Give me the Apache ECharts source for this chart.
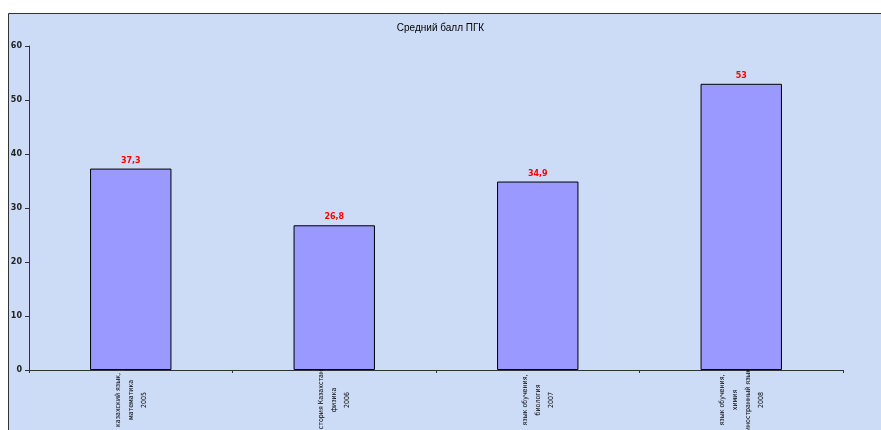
<!DOCTYPE html>
<html><head><meta charset="utf-8">
<script src="https://cdn.jsdelivr.net/npm/echarts@6/dist/echarts.min.js"></script>
<style>html,body{margin:0;padding:0;background:#fff}#c{width:881px;height:430px}</style>
</head><body><div id="c"></div>
<script>
const categories = [
  "казахский язык,\nматематика\n2005",
  "История Казахстана\nфизика\n2006",
  "язык обучения,\nбиология\n2007",
  "язык обучения,\nхимия\nиностранный язык\n2008"
];
const values = [37.3, 26.8, 34.9, 53];
const yTicks = { min: 0, max: 60, interval: 10 };
const title = "Средний балл ПГК";

const chart = echarts.init(document.getElementById('c'), null, {renderer: 'canvas'});
chart.setOption({
  backgroundColor: '#ffffff',
  animation: false,
  graphic: [{
    type: 'rect', z: -10, silent: true,
    shape: {x: 8.5, y: 13.5, width: 880, height: 420},
    style: {fill: '#cddcf6', stroke: '#333333', lineWidth: 1}
  }],
  title: {
    text: title, left: 'center', top: 18,
    textStyle: {fontFamily: 'Liberation Sans, Arial, sans-serif', fontSize: 10, fontWeight: 'normal', color: '#000'}
  },
  grid: {left: 29, right: 38, top: 46, bottom: 60, containLabel: false, outerBoundsMode: 'none'},
  xAxis: {
    type: 'category', data: categories,
    axisLine: {lineStyle: {color: '#333', width: 1}},
    axisTick: {show: true, length: 3, lineStyle: {color: '#333'}},
    axisLabel: {
      rotate: 90, align: 'center', verticalAlign: 'middle', margin: 30,
      interval: 0, overflow: 'none', hideOverlap: false,
      fontFamily: 'Liberation Sans Narrow, DejaVu Sans Condensed, sans-serif',
      fontSize: 7, lineHeight: 13, color: '#000'
    }
  },
  yAxis: {
    type: 'value', min: yTicks.min, max: yTicks.max, interval: yTicks.interval,
    splitLine: {show: false},
    axisLine: {show: true, lineStyle: {color: '#333', width: 1}},
    axisTick: {show: true, length: 4, lineStyle: {color: '#333'}},
    axisLabel: {margin: 7, fontFamily: 'DejaVu Sans, sans-serif', fontSize: 8, fontWeight: 'bold', color: '#222'}
  },
  series: [{
    type: 'bar', data: values, barWidth: '40%',
    itemStyle: {color: '#9999ff', borderColor: '#000', borderWidth: 1},
    label: {
      show: true, position: 'top', distance: 4,
      formatter: p => String(p.value).replace('.', ','),
      color: '#ff0000', fontWeight: 'bold', fontSize: 8,
      fontFamily: 'DejaVu Sans, sans-serif'
    }
  }]
});
</script></body></html>
